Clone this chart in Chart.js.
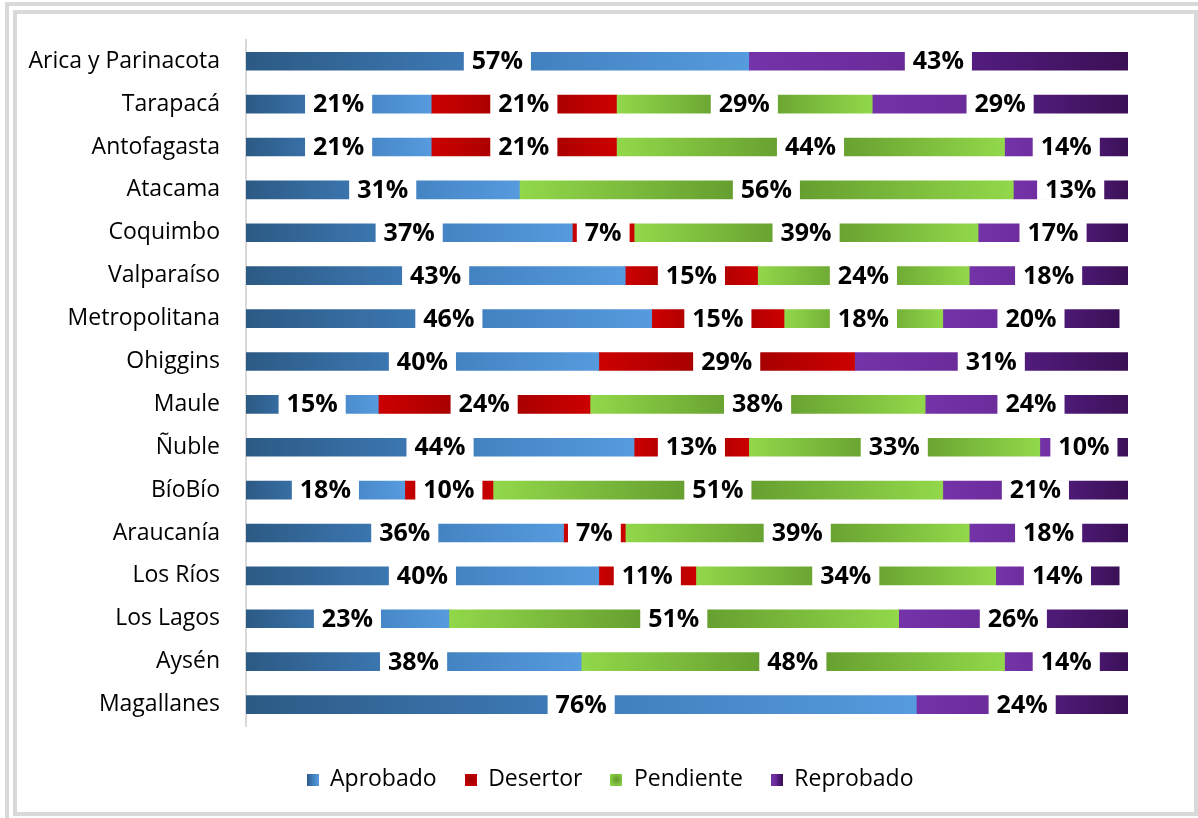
<!DOCTYPE html>
<html>
<head>
<meta charset="utf-8">
<script src="https://cdn.jsdelivr.net/npm/chart.js@4"></script>
<style>
  body { margin: 0; background: #fff; }
  .wrap { position: relative; width: 1198px; height: 818px; overflow: hidden; }
  .outer { position: absolute; left: 5px; top: 2px; width: 1193px; height: 816px;
           border-top: 4px solid #d9d9d9; border-left: 4px solid #d9d9d9; box-sizing: border-box; }
  .inner { position: absolute; left: 13px; top: 10px; width: 1185px; height: 806px;
           border: 4px solid #d9d9d9; box-sizing: border-box; background: #fff; }
  canvas { position: absolute; left: 0; top: 0; }
</style>
</head>
<body>
<div class="wrap">
  <div class="outer"></div>
  <div class="inner"></div>
  <canvas id="estadoChart" width="1198" height="818"></canvas>
</div>
<script>
const regiones = ['Arica y Parinacota', 'Tarapacá', 'Antofagasta', 'Atacama', 'Coquimbo', 'Valparaíso',
    'Metropolitana', 'Ohiggins', 'Maule', 'Ñuble', 'BíoBío', 'Araucanía', 'Los Ríos', 'Los Lagos',
    'Aysén', 'Magallanes'];
const aprobado  = [57, 21, 21, 31, 37, 43, 46, 40, 15, 44, 18, 36, 40, 23, 38, 76];
const desertor  = [null, 21, 21, null, 7, 15, 15, 29, 24, 13, 10, 7, 11, null, null, null];
const pendiente = [null, 29, 44, 56, 39, 24, 18, null, 38, 33, 51, 39, 34, 51, 48, null];
const reprobado = [43, 29, 14, 13, 17, 18, 20, 31, 24, 10, 21, 18, 14, 26, 14, 24];

// gradient stops for each estado, applied across each bar segment
const estadoStops = {
    Aprobado:  [[0, '#2c5a84'], [0.5, '#3f7dbb'], [1, '#569bde']],
    Desertor:  [[0, '#cc0000'], [0.5, '#9a0000'], [1, '#cc0000']],
    Pendiente: [[0, '#92d84a'], [0.5, '#5f962b'], [1, '#92d84a']],
    Reprobado: [[0, '#7433a8'], [0.4, '#6a2b9a'], [0.6, '#521c7e'], [1, '#3a1055']]
};
const estadoSolid = { Aprobado: '#3f7dbb', Desertor: '#c00000', Pendiente: '#7dbd3f', Reprobado: '#5b2089' };

function segmentGradient(name) {
    return function(context) {
        const chart = context.chart;
        if (context.type !== 'data' || !chart.chartArea) return estadoSolid[name];
        const i = context.dataIndex;
        let start = 0;
        for (let d = 0; d < context.datasetIndex; d++) {
            start += chart.data.datasets[d].data[i] || 0;
        }
        const value = context.raw || 0;
        const x = chart.scales.x;
        const x0 = x.getPixelForValue(start);
        const x1 = x.getPixelForValue(start + value);
        if (x1 - x0 < 1) return estadoSolid[name];
        const g = chart.ctx.createLinearGradient(x0, 0, x1, 0);
        estadoStops[name].forEach(s => g.addColorStop(s[0], s[1]));
        return g;
    };
}

// small gradient swatches for the legend
function legendSwatch(name) {
    const c = document.createElement('canvas');
    c.width = 12;
    c.height = 12;
    const cx = c.getContext('2d');
    let g;
    if (name === 'Aprobado' || name === 'Reprobado') {
        g = cx.createLinearGradient(0, 0, 12, 0);
        estadoStops[name].forEach(s => g.addColorStop(s[0], s[1]));
    } else {
        g = cx.createRadialGradient(6, 6, 0, 6, 6, 8);
        const stops = estadoStops[name];
        g.addColorStop(0, stops[1][1]);
        g.addColorStop(1, stops[0][1]);
    }
    cx.fillStyle = g;
    cx.fillRect(0, 0, 12, 12);
    return c;
}

const series = [
    { label: 'Aprobado', data: aprobado },
    { label: 'Desertor', data: desertor },
    { label: 'Pendiente', data: pendiente },
    { label: 'Reprobado', data: reprobado }
];

// white box with bold percentage in the middle of every segment
const percentLabels = {
    id: 'percentLabels',
    afterDatasetsDraw(chart) {
        const ctx = chart.ctx;
        ctx.save();
        ctx.font = 'bold 25px "Open Sans"';
        ctx.textAlign = 'center';
        ctx.textBaseline = 'middle';
        chart.data.datasets.forEach((ds, di) => {
            const meta = chart.getDatasetMeta(di);
            meta.data.forEach((bar, i) => {
                const v = ds.data[i];
                if (!v) return;
                const text = v + '%';
                const cx = (bar.x + bar.base) / 2;
                const w = ctx.measureText(text).width + 16;
                ctx.fillStyle = '#fff';
                ctx.fillRect(cx - w / 2, bar.y - bar.height / 2 - 1, w, bar.height + 2);
                ctx.fillStyle = '#000';
                ctx.fillText(text, cx, bar.y + 1);
            });
        });
        ctx.restore();
    }
};

// centre the legend row under the whole frame rather than the plot
const legendShift = {
    id: 'legendShift',
    afterLayout(chart) {
        if (chart.legend) chart.legend.left = 92;
    }
};

Chart.defaults.font.family = '"Open Sans", sans-serif';
Chart.defaults.color = '#000';

new Chart(document.getElementById('estadoChart').getContext('2d'), {
    type: 'bar',
    data: {
        labels: regiones,
        datasets: series.map(s => ({
            label: s.label,
            data: s.data,
            backgroundColor: segmentGradient(s.label),
            borderWidth: 0,
            barThickness: 18
        }))
    },
    options: {
        indexAxis: 'y',
        responsive: false,
        animation: false,
        layout: {
            padding: { top: 34, right: 70, bottom: 17, left: 0 }
        },
        plugins: {
            tooltip: { enabled: false },
            legend: {
                position: 'bottom',
                labels: {
                    usePointStyle: true,
                    boxWidth: 12,
                    boxHeight: 12,
                    padding: 28,
                    color: '#000',
                    font: { size: 23 },
                    generateLabels: function(chart) {
                        return chart.data.datasets.map((ds, i) => ({
                            text: ds.label,
                            pointStyle: legendSwatch(ds.label),
                            fillStyle: estadoSolid[ds.label],
                            strokeStyle: estadoSolid[ds.label],
                            lineWidth: 0,
                            hidden: false,
                            datasetIndex: i
                        }));
                    }
                }
            }
        },
        scales: {
            x: {
                stacked: true,
                min: 0,
                max: 100,
                grid: { display: false },
                border: { display: false },
                ticks: { display: false },
                afterFit: function(scale) { scale.height = 14; }
            },
            y: {
                stacked: true,
                grid: { display: false, drawTicks: false },
                border: { display: true, color: '#d9d9d9', width: 2 },
                ticks: {
                    padding: 26,
                    color: '#000',
                    font: { size: 23 }
                },
                afterFit: function(scale) { scale.width = 246; }
            }
        }
    },
    plugins: [percentLabels, legendShift]
});
</script>
</body>
</html>
